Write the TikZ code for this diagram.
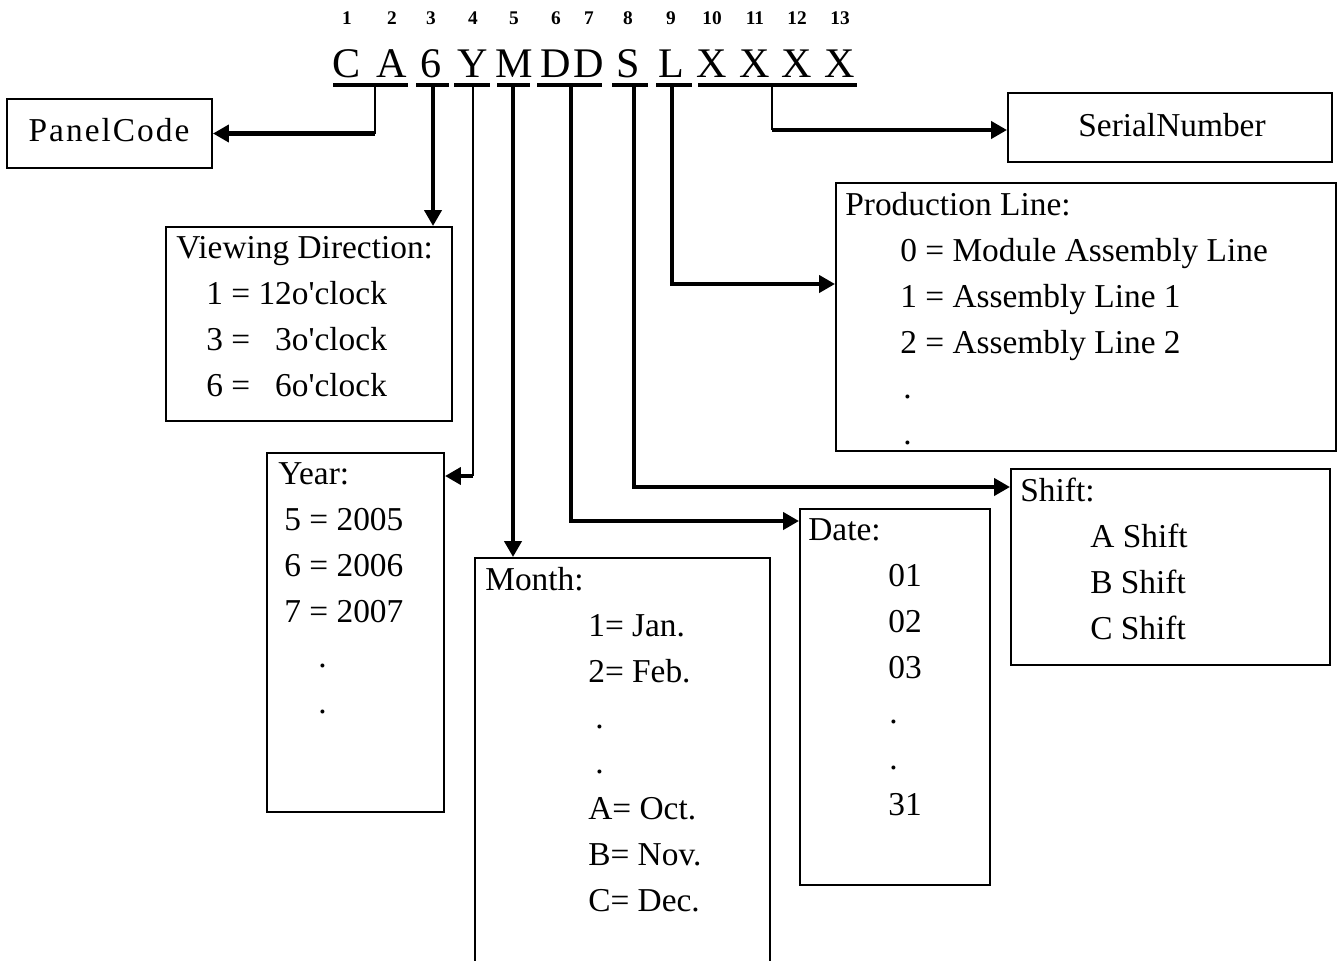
\documentclass[tikz,border=0pt]{standalone}
\usepackage{fontspec}
\setmainfont{Liberation Serif}
\usetikzlibrary{arrows.meta,fit}

\newcommand{\boxfont}{\fontsize{19}{26.1}\selectfont}

\tikzset{
  infobox/.style={draw, line width=1.1pt, rectangle, inner sep=0pt},
  infotext/.style={anchor=north west, align=left, inner sep=0pt, font=\boxfont},
  boxlabel/.style={anchor=base, inner sep=0pt, font=\boxfont},
  codechar/.style={anchor=base, inner sep=0pt, font=\fontsize{24}{29}\selectfont},
  codenum/.style={anchor=base, inner sep=0pt, font=\fontsize{11}{13}\selectfont\bfseries},
  bar/.style={line width=2.3pt},
  feed/.style={line width=2.3pt, -{Triangle[length=0.32cm, width=0.34cm]}},
  tap/.style={line width=1pt},
}

\begin{document}
\begin{tikzpicture}[x=0.02cm, y=-0.02cm]
    \useasboundingbox (0,0) rectangle (1338,960);

    % code string and digit positions
    \foreach \x/\c [count=\i] in {347/C, 392/A, 431/6, 473/Y, 514/M, 556/D, 589/D, 628/S, 671/L, 712/X, 755/X, 797/X, 840/X} {
        \node[codenum] (num\i) at (\x,25) {\i};
        \node[codechar] (ch\i) at (\x,77) {\c};
    }
    \foreach \a/\b in {333/408, 416/449, 454/490, 497/530, 537/602, 612/648, 656/692, 698/857}
        \draw[bar] (\a,85) -- (\b,85);

    % boxes
    \node[infobox, fit={(7,99) (212,168)}] (panel) {};
    \node[infobox, fit={(1008,93) (1332,162)}] (serial) {};
    \node[infobox, fit={(166,227) (452,421)}] (view) {};
    \node[infobox, fit={(836,183) (1336,451)}] (prod) {};
    \node[infobox, fit={(267,453) (444,812)}] (year) {};
    \node[infobox, fit={(475,558) (770,975)}] (month) {};
    \node[infobox, fit={(800,509) (990,885)}] (date) {};
    \node[infobox, fit={(1011,469) (1330,665)}] (shift) {};

    % box texts
    \node[boxlabel, font=\boxfont\addfontfeature{LetterSpace=6}] (paneltext) at (109,141) {PanelCode};
    \node[boxlabel] (serialtext) at (1172,136) {SerialNumber};
    \node[infotext] (viewtext) at (176,226) {\strut Viewing Direction:\\\hspace*{0.6cm}1 = 12o\textquotesingle clock\\\hspace*{0.6cm}3 = \phantom{1}3o\textquotesingle clock\\\hspace*{0.6cm}6 = \phantom{1}6o\textquotesingle clock};
    \node[infotext] (prodtext) at (845,183) {\strut Production Line:\\\hspace*{1.1cm}0 = Module Assembly Line\\\hspace*{1.1cm}1 = Assembly Line 1\\\hspace*{1.1cm}2 = Assembly Line 2\\\hspace*{1.16cm}.\\\hspace*{1.16cm}.};
    \node[infotext] (yeartext) at (278,452) {\strut Year:\\\hspace*{0.12cm}5 = 2005\\\hspace*{0.12cm}6 = 2006\\\hspace*{0.12cm}7 = 2007\\\hspace*{0.8cm}.\\\hspace*{0.8cm}.};
    \node[infotext] (monthtext) at (485,558) {\strut Month:\\\hspace*{2.06cm}1= Jan.\\\hspace*{2.06cm}2= Feb.\\\hspace*{2.2cm}.\\\hspace*{2.2cm}.\\\hspace*{2.06cm}A= Oct.\\\hspace*{2.06cm}B= Nov.\\\hspace*{2.06cm}C= Dec.};
    \node[infotext] (datetext) at (808,508) {\strut Date:\\\hspace*{1.6cm}01\\\hspace*{1.6cm}02\\\hspace*{1.6cm}03\\\hspace*{1.62cm}.\\\hspace*{1.62cm}.\\\hspace*{1.6cm}31};
    \node[infotext] (shifttext) at (1020,469) {\strut Shift:\\\hspace*{1.4cm}A Shift\\\hspace*{1.4cm}B Shift\\\hspace*{1.4cm}C Shift};

    % taps under the code
    \coordinate (tapca) at (375,85);
    \coordinate (tapvd) at (433,85);
    \coordinate (tapyr) at (473,85);
    \coordinate (tapmo) at (513,85);
    \coordinate (tapdd) at (571,85);
    \coordinate (tapsh) at (634,85);
    \coordinate (tapln) at (672,85);
    \coordinate (tapsn) at (772,85);
    \coordinate (turnyr) at (473,476);
    \coordinate (turndd) at (571,521);
    \coordinate (turnsh) at (634,487);
    \coordinate (turnln) at (672,284);
    \coordinate (turnsn) at (772,130);

    \draw[tap] (tapca) -- (tapca |- panel.east);
    \draw[feed] (tapca |- panel.east) -- (panel.east);
    \draw[feed] (tapvd) -- (tapvd |- view.north);
    \draw[tap] (tapyr) -- (turnyr);
    \draw[feed] (turnyr) -- (turnyr -| year.east);
    \draw[feed] (tapmo) -- (tapmo |- month.north);
    \draw[feed] (tapdd) -- (turndd) -- (turndd -| date.west);
    \draw[feed] (tapsh) -- (turnsh) -- (turnsh -| shift.west);
    \draw[feed] (tapln) -- (turnln) -- (turnln -| prod.west);
    \draw[tap] (tapsn) -- (turnsn);
    \draw[feed] (turnsn) -- (turnsn -| serial.west);
\end{tikzpicture}
\end{document}
